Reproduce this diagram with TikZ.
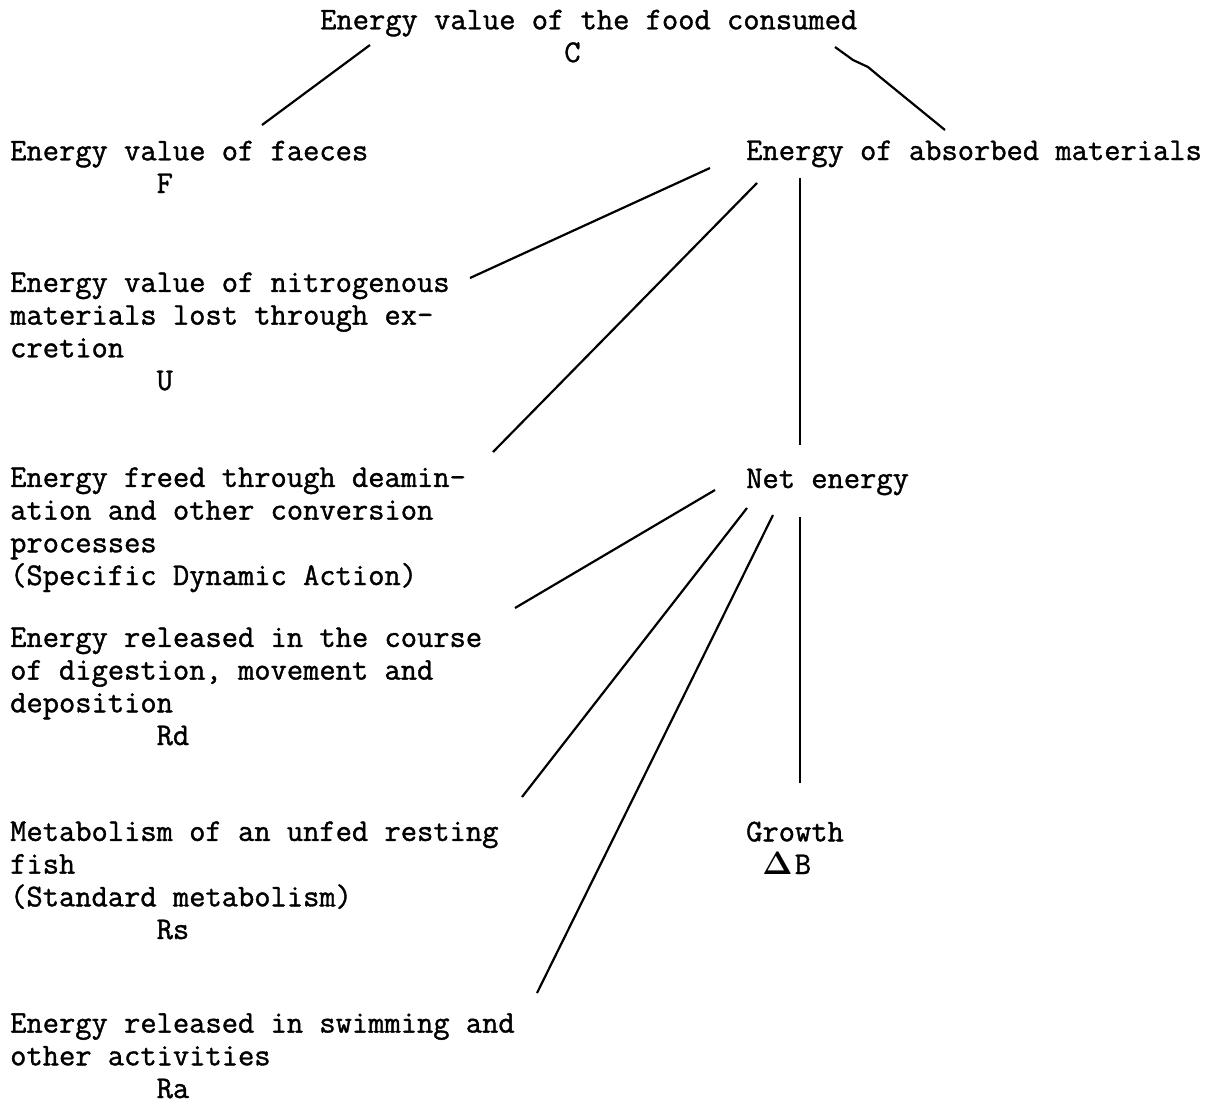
\documentclass[tikz,border=0pt]{standalone}
\usepackage{graphicx}
\usepackage{fontspec}
\setmonofont[RawFeature={embolden=1.2}]{Latin Modern Mono}
\newcommand{\gap}[1]{\hspace*{#1\fontcharwd\font`M}}

\begin{document}
\begin{tikzpicture}[x=1pt, y=-1pt,
  font=\ttfamily\fontsize{31.6}{32.7}\selectfont,
  blk/.style={anchor=base west, align=left, inner sep=0pt},
  link/.style={line width=2.2pt}]
  \useasboundingbox (0,0) rectangle (1216,1104);

  % Texts (placed at the baseline of their last line)
  \node[blk] (food) at (320,62) {Energy value of the food consumed\\\gap{15}C};
  \node[blk] (faeces) at (10,193) {Energy value of faeces\\\gap{9}F};
  \node[blk] (absorbed) at (746,160) {Energy of absorbed materials};
  \node[blk] (excretion) at (10,390) {Energy value of nitrogenous\\materials lost through ex-\\cretion\\\gap{9}U};
  \node[blk] (sda) at (10,585) {Energy freed through deamin-\\ation and other conversion\\processes\\(Specific Dynamic Action)};
  \node[blk] (net) at (746,488) {Net energy};
  \node[blk] (digest) at (10,745) {Energy released in the course\\of digestion, movement and\\deposition\\\gap{9}Rd};
  \node[blk] (standard) at (10,939) {Metabolism of an unfed resting\\fish\\(Standard metabolism)\\\gap{9}Rs};
  \node[blk] (growth) at (746,874) {Growth\\\gap{1}\scalebox{1.3}{\boldmath$\Delta$}\hspace{2pt}B};
  \node[blk] (swim) at (10,1098) {Energy released in swimming and\\other activities\\\gap{9}Ra};

  % Coordinates for the ends of the connectors
  \path
  (370,45) coordinate(food-l)
  (262,125) coordinate(faeces-t)
  (835,47) coordinate(food-r)
  (945,130) coordinate(absorbed-t)
  (710,168) coordinate(absorbed-a)
  (470,278) coordinate(excretion-r)
  (757,183) coordinate(absorbed-b)
  (493,452) coordinate(sda-t)
  (800,178) coordinate(absorbed-c)
  (800,445) coordinate(net-t)
  (715,490) coordinate(net-a)
  (515,608) coordinate(digest-t)
  (747,508) coordinate(net-b)
  (522,797) coordinate(standard-t)
  (773,515) coordinate(net-c)
  (537,993) coordinate(swim-t)
  (800,517) coordinate(net-d)
  (800,783) coordinate(growth-t);

  % Connectors
  \draw[link] (food-l) -- (faeces-t);
  \draw[link] (food-r) -- (853,60) -- (868,67) -- (880,77) -- (absorbed-t);
  \draw[link] (absorbed-a) -- (excretion-r);
  \draw[link] (absorbed-b) -- (sda-t);
  \draw[link] (absorbed-c) -- (net-t);
  \draw[link] (net-a) -- (digest-t);
  \draw[link] (net-b) -- (standard-t);
  \draw[link] (net-c) -- (swim-t);
  \draw[link] (net-d) -- (growth-t);
\end{tikzpicture}
\end{document}
